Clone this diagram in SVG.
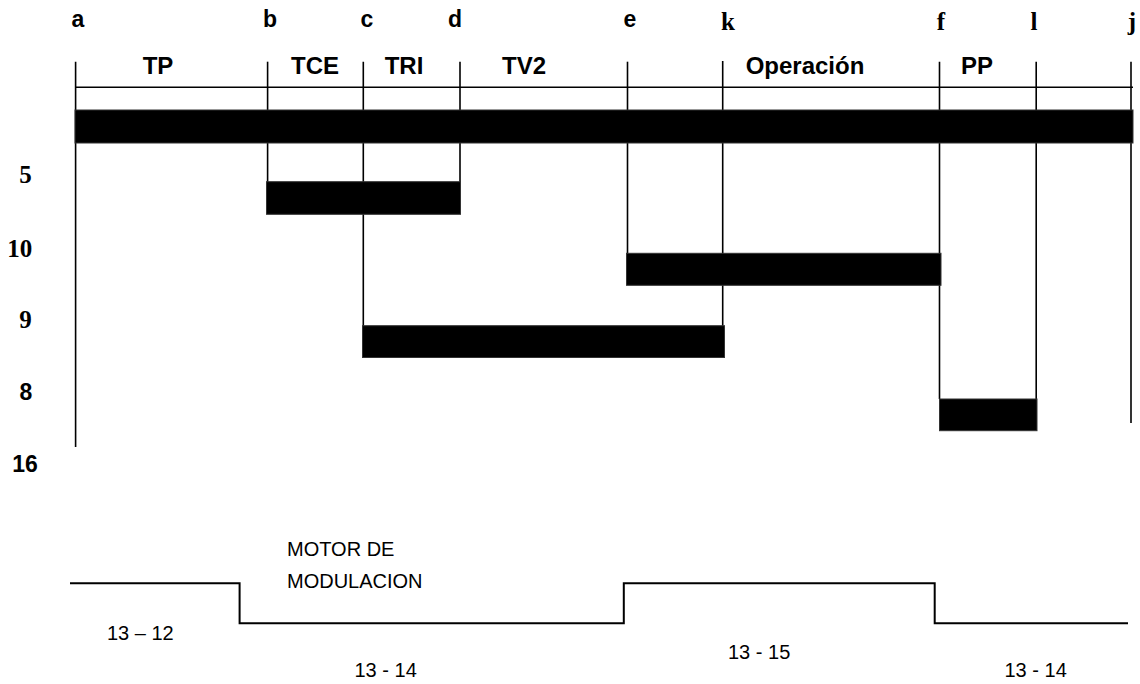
<svg xmlns="http://www.w3.org/2000/svg" width="1140" height="684" viewBox="0 0 1140 684">
<style>
.bg{fill:#ffffff}
.ln{stroke:#000;stroke-width:1.6;fill:none}
.bar{fill:#000;stroke:#333;stroke-width:1}
.ls{font-family:"Liberation Sans",Arial,sans-serif;font-weight:bold;font-size:23px;fill:#000}
.lr{font-family:"Liberation Serif","Times New Roman",serif;font-weight:bold;font-size:25px;fill:#000}
.ph{font-family:"Liberation Sans",Arial,sans-serif;font-weight:bold;font-size:24px;fill:#000;text-anchor:middle}
.yl{text-anchor:middle}
.nt{font-family:"Liberation Sans",Arial,sans-serif;font-size:20px;fill:#000}
.wv{stroke:#000;stroke-width:2;fill:none}
</style>
<rect class="bg" x="0" y="0" width="1140" height="684"/>

<g id="point-labels" text-anchor="middle">
<text class="ls" x="78" y="27">a</text>
<text class="ls" x="270" y="27">b</text>
<text class="ls" x="367" y="27">c</text>
<text class="ls" x="455" y="27">d</text>
<text class="ls" x="630" y="27">e</text>
<text class="lr" x="728" y="30">k</text>
<text class="lr" x="941" y="30">f</text>
<text class="lr" x="1034" y="30">l</text>
<text class="lr" x="1132" y="30">j</text>
</g>

<g id="phase-labels">
<text class="ph" x="158" y="74">TP</text>
<text class="ph" x="315" y="74">TCE</text>
<text class="ph" x="404" y="74">TRI</text>
<text class="ph" x="524" y="74">TV2</text>
<text class="ph" x="805" y="74">Operación</text>
<text class="ph" x="977" y="74">PP</text>
</g>

<g id="connectors">
<line class="ln" x1="75.6" y1="87.3" x2="1133" y2="87.3"/>
<line class="ln" x1="75.6" y1="61.7" x2="75.6" y2="447"/>
<line class="ln" x1="267.6" y1="61.7" x2="267.6" y2="182"/>
<line class="ln" x1="363.3" y1="61.7" x2="363.3" y2="326"/>
<line class="ln" x1="460" y1="61.7" x2="460" y2="182"/>
<line class="ln" x1="627.5" y1="61.7" x2="627.5" y2="254"/>
<line class="ln" x1="722.7" y1="61" x2="722.7" y2="326"/>
<line class="ln" x1="939.5" y1="61.7" x2="939.5" y2="399"/>
<line class="ln" x1="1036.2" y1="61.7" x2="1036.2" y2="399"/>
<line class="ln" x1="1131" y1="61.7" x2="1131" y2="423"/>
</g>

<g id="bar-main"><rect class="bar" x="75" y="110" width="1058" height="33"/></g>
<g id="bar-5"><rect class="bar" x="266.5" y="181.7" width="194" height="32.6"/></g>
<g id="bar-10"><rect class="bar" x="626.5" y="253.3" width="314.5" height="32"/></g>
<g id="bar-9"><rect class="bar" x="362.5" y="325.7" width="362" height="31.8"/></g>
<g id="bar-8"><rect class="bar" x="939.5" y="399" width="97.5" height="31.7"/></g>

<g id="row-labels">
<text class="lr yl" x="25.5" y="183">5</text>
<text class="lr yl" x="19.7" y="256.5">10</text>
<text class="lr yl" x="25.5" y="328.3">9</text>
<text class="ls yl" x="25.8" y="400">8</text>
<text class="ls yl" x="25" y="471.7">16</text>
</g>

<g id="waveform">
<polyline class="wv" points="70,583.3 239.6,583.3 239.6,623.3 623.8,623.3 623.8,583.3 934.7,583.3 934.7,623.3 1128,623.3"/>
</g>

<g id="notes">
<text class="nt" x="287" y="555.5">MOTOR DE</text>
<text class="nt" x="287" y="587.5">MODULACION</text>
<text class="nt" x="107" y="640">13 – 12</text>
<text class="nt" x="354.5" y="677">13 - 14</text>
<text class="nt" x="728" y="659">13 - 15</text>
<text class="nt" x="1004.5" y="677">13 - 14</text>
</g>
</svg>
